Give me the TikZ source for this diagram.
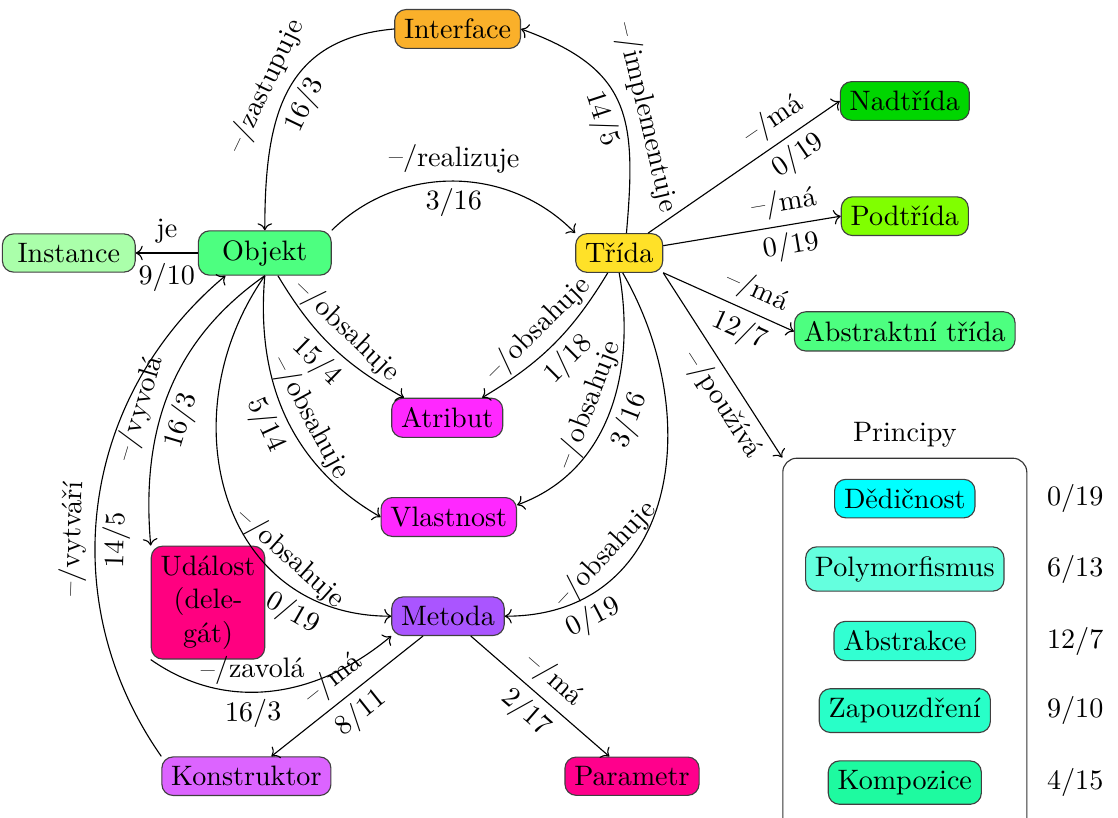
\documentclass[tikz,border=0pt]{standalone}
\usepackage{fontspec}
\usepackage{tikz}
\usetikzlibrary{arrows.meta,positioning}
\definecolor{ifaceOrange}{RGB}{250,176,42}
\definecolor{objGreen}{RGB}{77,255,128}
\definecolor{instGreen}{RGB}{170,255,170}
\definecolor{classYellow}{RGB}{255,225,40}
\definecolor{superGreen}{RGB}{0,214,0}
\definecolor{subGreen}{RGB}{128,255,0}
\definecolor{memberMagenta}{RGB}{255,40,255}
\definecolor{methodPurple}{RGB}{170,85,255}
\definecolor{eventPink}{RGB}{255,0,128}
\definecolor{ctorViolet}{RGB}{220,100,255}
\definecolor{paramPink}{RGB}{255,0,140}
\definecolor{inhCyan}{RGB}{0,255,255}
\definecolor{polyTeal}{RGB}{100,255,222}
\definecolor{abstrTeal}{RGB}{50,255,210}
\definecolor{encTeal}{RGB}{40,255,200}
\definecolor{compGreen}{RGB}{30,250,160}

\begin{document}
\begin{tikzpicture}[
  concept/.style={draw=black!75, rounded corners=4pt, fill=#1},
  wide/.style={minimum width=1.66cm},
  rel/.style={->},
  lbl/.style={sloped, inner sep=2.5pt}
]
\useasboundingbox (0,0) rectangle (13.975,10.2125);

\node[concept=ifaceOrange] (interface) at (5.72,9.85) {Interface};
\node[concept=objGreen, wide] (objekt) at (3.31,7.05) {Objekt};
\node[concept=instGreen, wide] (instance) at (0.86,7.05) {Instance};
\node[concept=classYellow] (trida) at (7.74,7.05) {Třída};
\node[concept=superGreen] (nadtrida) at (11.31,8.95) {Nadtřída};
\node[concept=subGreen] (podtrida) at (11.31,7.51) {Podtřída};
\node[concept=objGreen] (abstraktni) at (11.31,6.07) {Abstraktní třída};
\node[concept=memberMagenta] (atribut) at (5.59,4.99) {Atribut};
\node[concept=memberMagenta] (vlastnost) at (5.61,3.75) {Vlastnost};
\node[concept=methodPurple] (metoda) at (5.60,2.51) {Metoda};
\node[concept=eventPink, align=center, minimum width=1.38cm, minimum height=1.29cm] (udalost) at (2.60,2.68) {Událost\\(dele-\\gát)};
\node[concept=ctorViolet] (konstruktor) at (3.08,0.51) {Konstruktor};
\node[concept=paramPink] (parametr) at (7.90,0.51) {Parametr};

\node[draw=black!80, rounded corners=5pt, minimum width=3.05cm, minimum height=4.75cm, label=above:Principy] (principy) at (11.31,2.11) {};
\node[concept=inhCyan] (dedicnost) at (11.31,3.98) {Dědičnost};
\node[concept=polyTeal] (polymorfismus) at (11.31,3.10) {Polymorfismus};
\node[concept=abstrTeal] (abstrakce) at (11.31,2.20) {Abstrakce};
\node[concept=encTeal] (zapouzdreni) at (11.31,1.33) {Zapouzdření};
\node[concept=compGreen] (kompozice) at (11.31,0.43) {Kompozice};
\node (ndedicnost) at (13.44,3.98) {0/19};
\node (npolymorfismus) at (13.44,3.10) {6/13};
\node (nabstrakce) at (13.44,2.20) {12/7};
\node (nzapouzdreni) at (13.44,1.33) {9/10};
\node (nkompozice) at (13.44,0.43) {4/15};

\draw[rel] (interface.west) to[out=185, in=90, looseness=1.2]
  node[lbl, above, pos=0.52] {–/zastupuje} node[lbl, below, pos=0.52] {16/3} (objekt.north);
\draw[rel] (trida.70) to[out=85, in=-20, looseness=1.3]
  node[lbl, above, pos=0.4] {–/implementuje} node[lbl, below, pos=0.45] {14/5} (interface.east);
\draw[rel] (objekt.north east) to[bend left=45]
  node[lbl, above] {–/realizuje} node[lbl, below] {3/16} (trida.north west);
\draw[rel] (objekt.west) -- node[above] {je} node[below] {9/10} (instance.east);

\draw[rel] (objekt.300) to[bend right=15]
  node[lbl, above] {–/obsahuje} node[lbl, below] {15/4} (atribut.155);
\draw[rel] (objekt.south) to[out=-95, in=150]
  node[lbl, above, pos=0.55] {–/obsahuje} node[lbl, below, pos=0.5] {5/14} (vlastnost.west);
\draw[rel] (objekt.south) to[out=-125, in=180, looseness=1.2]
  node[lbl, above, pos=0.72] {–/obsahuje} node[lbl, below, pos=0.8] {0/19} (metoda.west);
\draw[rel] (objekt.south) to[out=-145, in=95]
  node[lbl, above, pos=0.58] {–/vyvolá} node[lbl, below, pos=0.58] {16/3} (udalost.north west);
\draw[rel] (konstruktor.north west) to[out=125, in=220]
  node[lbl, above, pos=0.43] {–/vytváří} node[lbl, below, pos=0.43] {14/5} (objekt.210);
\draw[rel] (udalost.south west) to[out=-35, in=220]
  node[lbl, above, pos=0.42] {–/zavolá} node[lbl, below, pos=0.42] {16/3} (metoda.south west);

\draw[rel] (metoda) -- node[lbl, above] {–/má} node[lbl, below] {8/11} (konstruktor);
\draw[rel] (metoda) -- node[lbl, above] {–/má} node[lbl, below] {2/17} (parametr);

\draw[rel] (trida.240) to[bend left=14]
  node[lbl, above] {–/obsahuje} node[lbl, below] {1/18} (atribut.30);
\draw[rel] (trida.south) to[out=-80, in=20]
  node[lbl, above] {–/obsahuje} node[lbl, below] {3/16} (vlastnost.10);
\draw[rel] (trida.280) to[out=-60, in=0, looseness=1.2]
  node[lbl, above, pos=0.7] {–/obsahuje} node[lbl, below, pos=0.82] {0/19} (metoda.east);

\draw[rel] (trida) -- node[lbl, above, pos=0.72] {–/má} node[lbl, below, pos=0.72] {0/19} (nadtrida.west);
\draw[rel] (trida) -- node[lbl, above, pos=0.7] {–/má} node[lbl, below, pos=0.7] {0/19} (podtrida.west);
\draw[rel] (trida) -- node[lbl, above, pos=0.65] {–/má} node[lbl, below, pos=0.65] {12/7} (abstraktni.west);
\draw[rel] (trida.south east) -- node[lbl, below, pos=0.65] {–/používá} (principy.north west);
\end{tikzpicture}
\end{document}
